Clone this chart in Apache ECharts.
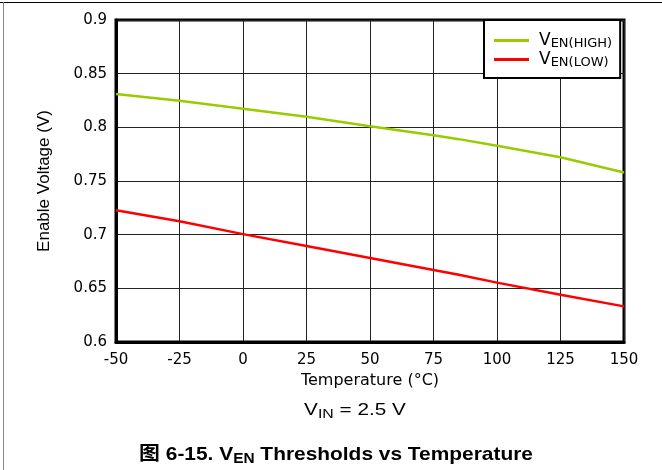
<!DOCTYPE html>
<html>
<head>
<meta charset="utf-8">
<script src="https://cdn.jsdelivr.net/npm/echarts@6/dist/echarts.min.js"></script>
<style>html,body{margin:0;padding:0;background:#fff}#c{width:662px;height:470px}</style>
</head>
<body>
<div id="c"></div>
<script>
var temperatures = [-50, -25, 0, 25, 50, 75, 85, 100, 125, 150];
var venHigh = [0.831, 0.8247, 0.8173, 0.8098, 0.801, 0.7927, 0.789, 0.7828, 0.7722, 0.7579];
var venLow = [0.7228, 0.7125, 0.7005, 0.6895, 0.6783, 0.6671, 0.6626, 0.6553, 0.6441, 0.6332];
var xTicks = [-50, -25, 0, 25, 50, 75, 100, 125, 150];
var yTicks = [0.6, 0.65, 0.7, 0.75, 0.8, 0.85, 0.9];

var WIDE = '"DejaVu Sans", sans-serif';
var FONT = '"Liberation Sans", Arial, "Noto Sans CJK SC", sans-serif';
function pairs(xs, ys){ return xs.map(function(x,i){ return [x, ys[i]]; }); }

var chart = echarts.init(document.getElementById('c'), null, {renderer:'canvas'});
chart.setOption({
  animation: false,
  backgroundColor: '#fff',
  grid: { left: 116, right: 38, top: 20, bottom: 128, show: true, borderColor: '#000', borderWidth: 3, backgroundColor: 'transparent' },
  xAxis: {
    type: 'value', min: xTicks[0], max: xTicks[xTicks.length-1], interval: 25,
    name: 'Temperature (°C)', nameLocation: 'middle', nameGap: 24,
    nameTextStyle: { fontFamily: WIDE, fontSize: 16, color: '#000' },
    axisLine: { show: true, onZero: false, lineStyle: { color: '#000', width: 3 } },
    axisTick: { show: false },
    axisLabel: { fontFamily: WIDE, fontSize: 15, color: '#000', margin: 11 },
    splitLine: { show: true, lineStyle: { color: '#222', width: 1 } }
  },
  yAxis: {
    type: 'value', min: yTicks[0], max: yTicks[yTicks.length-1], interval: 0.05,
    name: 'Enable Voltage (V)', nameLocation: 'middle', nameGap: 63,
    nameTextStyle: { fontFamily: FONT, fontSize: 17, color: '#000' },
    axisLine: { show: true, onZero: false, lineStyle: { color: '#000', width: 3 } },
    axisTick: { show: false },
    axisLabel: { fontFamily: WIDE, fontSize: 15, color: '#000', margin: 9,
      formatter: function(v){ return String(+v.toFixed(2)); } },
    splitLine: { show: true, lineStyle: { color: '#222', width: 1 } }
  },
  legend: {
    orient: 'vertical', left: 484, top: 20,
    padding: [12, 8, 9, 10], itemGap: 1, itemWidth: 35, itemHeight: 3, icon: 'rect',
    backgroundColor: '#fff', borderColor: '#000', borderWidth: 2,
    textStyle: { fontFamily: WIDE, color: '#000',
      rich: { v: { fontFamily: WIDE, fontSize: 17, color: '#000', padding: [0,0,0,5] },
              s: { fontFamily: WIDE, fontSize: 13, color: '#000', padding: [6,0,0,0] } } },
    formatter: function(name){ return name === 'high' ? '{v|V}{s|EN(HIGH)}' : '{v|V}{s|EN(LOW)}'; },
    data: ['high', 'low']
  },
  series: [
    { name: 'high', type: 'line', data: pairs(temperatures, venHigh), symbol: 'none', smooth: false,
      lineStyle: { color: '#99cc00', width: 2.5 }, itemStyle: { color: '#99cc00' } },
    { name: 'low', type: 'line', data: pairs(temperatures, venLow), symbol: 'none', smooth: false,
      lineStyle: { color: '#ff0000', width: 2.5 }, itemStyle: { color: '#ff0000' } }
  ],
  graphic: [
    { type: 'line', shape: { x1: 0, y1: 2.5, x2: 662, y2: 2.5 }, style: { stroke: '#000', lineWidth: 1 } },
    { type: 'line', shape: { x1: 3.5, y1: 2, x2: 3.5, y2: 470 }, style: { stroke: '#888', lineWidth: 1 } },
    { type: 'text', x: 355, y: 410, scaleX: 1.22,
      style: { text: '{v|V}{s|IN}{v| = 2.5 V}', fontFamily: FONT, align: 'center', verticalAlign: 'middle',
        rich: { v: { fontFamily: FONT, fontSize: 17, color: '#000' },
                s: { fontFamily: FONT, fontSize: 13, color: '#000', padding: [9,0,0,0] } } } },
    { type: 'text', x: 336, y: 455, scaleX: 1.1,
      style: { text: '{v|图 6-15. V}{s|EN}{v| Thresholds vs Temperature}', fontFamily: FONT, align: 'center', verticalAlign: 'middle',
        rich: { v: { fontFamily: FONT, fontSize: 19, fontWeight: 'bold', color: '#000' },
                s: { fontFamily: FONT, fontSize: 14, fontWeight: 'bold', color: '#000', padding: [8,0,0,0] } } } }
  ]
});
</script>
</body>
</html>
